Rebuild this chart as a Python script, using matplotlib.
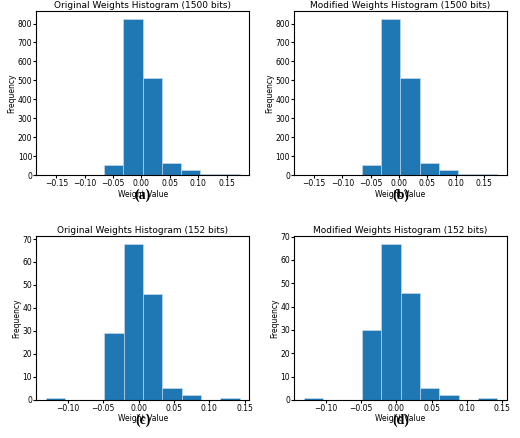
import numpy as np
import matplotlib.pyplot as plt

edges_1500 = [-0.168, -0.134, -0.100, -0.066, -0.032, 0.002, 0.036, 0.070, 0.104, 0.139, 0.173]
orig_1500 = [1, 1, 1, 55, 825, 512, 65, 25, 5, 7]
mod_1500 = [1, 1, 1, 55, 825, 512, 65, 25, 5, 7]

edges_152 = [-0.131, -0.1036, -0.0762, -0.0488, -0.0214, 0.006, 0.0334, 0.0608, 0.0882, 0.1156, 0.143]
orig_152 = [1, 0, 0, 29, 68, 46, 5, 2, 0, 1]
mod_152 = [1, 0, 0, 30, 67, 46, 5, 2, 0, 1]

panels = [
    ('Original Weights Histogram (1500 bits)', edges_1500, orig_1500, '(a)', [-0.15, -0.10, -0.05, 0.00, 0.05, 0.10, 0.15]),
    ('Modified Weights Histogram (1500 bits)', edges_1500, mod_1500, '(b)', [-0.15, -0.10, -0.05, 0.00, 0.05, 0.10, 0.15]),
    ('Original Weights Histogram (152 bits)', edges_152, orig_152, '(c)', [-0.10, -0.05, 0.00, 0.05, 0.10, 0.15]),
    ('Modified Weights Histogram (152 bits)', edges_152, mod_152, '(d)', [-0.10, -0.05, 0.00, 0.05, 0.10, 0.15]),
]

fig, axes = plt.subplots(2, 2, figsize=(5.2, 4.38), dpi=100)
plt.subplots_adjust(left=0.07, right=0.975, top=0.975, bottom=0.087, wspace=0.21, hspace=0.37)

for ax, (title, edges, counts, tag, ticks) in zip(axes.flat, panels):
    e = np.array(edges)
    ax.hist(e[:-1], bins=e, weights=counts, color='#1f77b4', edgecolor='#cfe0ee', linewidth=0.4)
    ax.set_title(title, fontsize=6.5, pad=2)
    ax.set_xlabel('Weight Value', fontsize=5.5, labelpad=1)
    ax.set_ylabel('Frequency', fontsize=5.5, labelpad=1)
    ax.set_xticks(ticks)
    ax.tick_params(labelsize=5.5, length=2, pad=1)
    ax.text(0.5, -0.085, tag, transform=ax.transAxes, ha='center', va='top',
            fontsize=10, fontweight='bold', family='Liberation Serif')

fig.savefig('out.png')
